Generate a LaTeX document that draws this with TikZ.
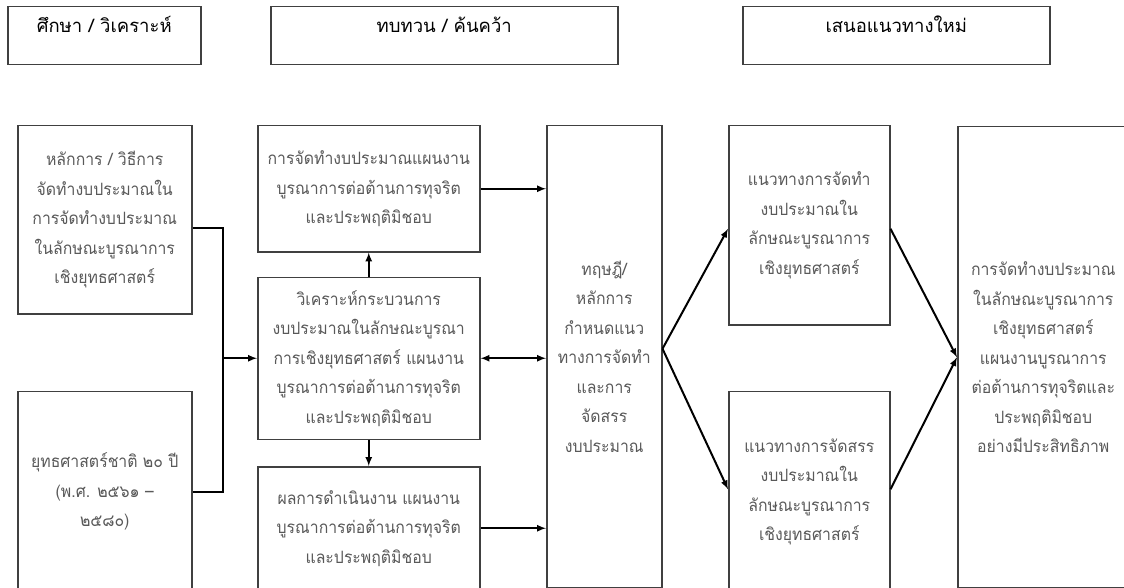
\documentclass[tikz,border=0pt]{standalone}
\usepackage{fontspec}
\newfontfamily\thaifont[Script=Thai, FakeStretch=0.93]{Loma}
\newfontfamily\headfont[Script=Thai]{Loma}
\usepackage{tikz}
\usetikzlibrary{arrows, positioning}

\definecolor{boxgray}{HTML}{404040}
\definecolor{txtgray}{HTML}{595959}

\tikzset{
	box/.style={draw=boxgray, line width=1.5pt, align=center, inner sep=0pt,
		text=txtgray, font=\thaifont\fontsize{17}{29.5}\selectfont},
	head/.style={draw=boxgray, line width=1.5pt, inner sep=0pt, text=black,
		text height=14pt, text depth=20pt, font=\headfont\fontsize{18.5}{29}\selectfont},
	link/.style={line width=2pt, black, >=latex},
}

\begin{document}
\begin{tikzpicture}[x=1pt, y=-1pt]
	\useasboundingbox (0,0) rectangle (1124,588);
	\fill[white] (0,0) rectangle (1124,588);
	\clip (0,0) rectangle (1124,588);

	% column headers
	\node[head, minimum width=193, minimum height=58, anchor=north west] (study) at (7,6) {ศึกษา / วิเคราะห์};
	\node[head, minimum width=347, minimum height=58, anchor=north west] (review) at (270,6) {ทบทวน / ค้นคว้า};
	\node[head, minimum width=307, minimum height=58, anchor=north west] (propose) at (742,6) {เสนอแนวทางใหม่};

	% study column
	\node[box, minimum width=174, minimum height=188, anchor=north west] (principle) at (17,125)
		{หลักการ / วิธีการ\\จัดทำงบประมาณใน\\การจัดทำงบประมาณ\\ในลักษณะบูรณาการ\\เชิงยุทธศาสตร์};
	\node[box, minimum width=174, minimum height=201, below=76pt of principle] (strategy)
		{ยุทธศาสตร์ชาติ ๒๐ ปี\\(พ.ศ. ๒๕๖๑ –\\๒๕๘๐)};

	% review column
	\node[box, minimum width=222, minimum height=126, anchor=north west] (plan) at (257,125)
		{การจัดทำงบประมาณแผนงาน\\บูรณาการต่อต้านการทุจริต\\และประพฤติมิชอบ};
	\node[box, minimum width=222, minimum height=162, below=24pt of plan] (analyse)
		{วิเคราะห์กระบวนการ\\งบประมาณในลักษณะบูรณา\\การเชิงยุทธศาสตร์ แผนงาน\\บูรณาการต่อต้านการทุจริต\\และประพฤติมิชอบ};
	\node[box, minimum width=222, minimum height=123, below=26pt of analyse] (result)
		{ผลการดำเนินงาน แผนงาน\\บูรณาการต่อต้านการทุจริต\\และประพฤติมิชอบ};
	\node[box, minimum width=115, minimum height=462, anchor=north west] (theory) at (546,125)
		{ทฤษฎี/\\หลักการ\\กำหนดแนว\\ทางการจัดทำ\\และการ\\จัดสรร\\งบประมาณ};

	% propose column
	\node[box, minimum width=161, minimum height=199, anchor=north west] (makeway) at (728,125)
		{แนวทางการจัดทำ\\งบประมาณใน\\ลักษณะบูรณาการ\\เชิงยุทธศาสตร์};
	\node[box, minimum width=161, minimum height=201, below=65pt of makeway] (allocway)
		{แนวทางการจัดสรร\\งบประมาณใน\\ลักษณะบูรณาการ\\เชิงยุทธศาสตร์};
	\node[box, minimum width=171, minimum height=461, anchor=north west] (goal) at (957,126)
		{การจัดทำงบประมาณ\\ในลักษณะบูรณาการ\\เชิงยุทธศาสตร์\\แผนงานบูรณาการ\\ต่อต้านการทุจริตและ\\ประพฤติมิชอบ\\อย่างมีประสิทธิภาพ};

	% connectors
	\coordinate (join) at ([xshift=-34pt]analyse.west);
	\draw[link] ([yshift=-8pt]principle.east) -| (join) |- (strategy.east);
	\draw[link, ->] (join) -- (analyse.west);
	\draw[link, ->] (analyse) -- (plan);
	\draw[link, ->] (analyse) -- (result);
	\draw[link, ->] (plan.east) -- (plan.east -| theory.west);
	\draw[link, <->] (analyse.east) -- (analyse.east -| theory.west);
	\draw[link, ->] (result.east) -- (result.east -| theory.west);
	\draw[link, ->] ([yshift=8pt]theory.east) -- ([yshift=-3.5pt]makeway.west);
	\draw[link, ->] ([yshift=8pt]theory.east) -- ([yshift=2.5pt]allocway.west);
	\draw[link, ->] ([yshift=-3.5pt]makeway.east) -- (goal.west);
	\draw[link, ->] ([yshift=2.5pt]allocway.east) -- (goal.west);
\end{tikzpicture}
\end{document}
